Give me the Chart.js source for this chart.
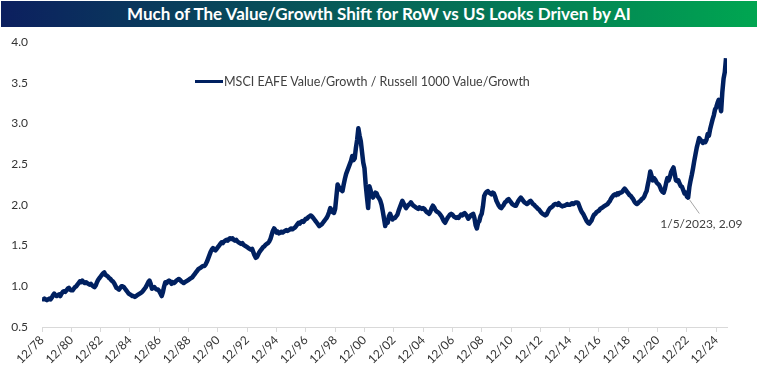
<!DOCTYPE html>
<html>
<head>
<meta charset="utf-8">
<script src="https://cdn.jsdelivr.net/npm/chart.js@4.4.1/dist/chart.umd.min.js"></script>
<style>
    html, body { margin: 0; padding: 0; background: #fff; }
    #wrap { position: relative; width: 759px; height: 375px; overflow: hidden; }
    #chart { position: absolute; left: 0; top: 0; }
    #title {
        position: absolute; left: 1px; top: 1px; width: 756px; height: 26px;
        background: linear-gradient(to right, #0c1f5f, #00a651);
        color: #fff; font: bold 17px Lato, "Open Sans", sans-serif;
        text-align: center; line-height: 26px;
    }
    #legend {
        position: absolute; left: 195px; top: 74px;
        font: 12.5px Lato, "Open Sans", sans-serif; color: #404040; white-space: nowrap;
    }
    #legend span.swatch {
        display: inline-block; width: 28px; height: 3px; background: #002060;
        vertical-align: middle; margin-right: 1px; position: relative; top: -1px;
    }
</style>
</head>
<body>
<div id="wrap">
    <canvas id="chart" width="759" height="375"></canvas>
    <div id="title">Much of The Value/Growth Shift for RoW vs US Looks Driven by AI</div>
    <div id="legend"><span class="swatch"></span>MSCI EAFE Value/Growth / Russell 1000 Value/Growth</div>
</div>
<script>
// monthly readings, first value is Dec 1978
const startYear = 1978 + 11 / 12;
const endYear = 2025.65;
const seriesName = 'MSCI EAFE Value/Growth / Russell 1000 Value/Growth';

const ratio = [
    0.85,
    // 1979
    0.84, 0.85, 0.84, 0.83, 0.84, 0.85, 0.84, 0.86, 0.89, 0.91, 0.89, 0.88,
    // 1980
    0.89, 0.90, 0.88, 0.91, 0.93, 0.94, 0.93, 0.95, 0.97, 0.98, 0.96, 0.95,
    // 1981
    0.95, 0.97, 0.99, 1.00, 1.02, 1.04, 1.06, 1.05, 1.07, 1.05, 1.04, 1.05,
    // 1982
    1.04, 1.03, 1.02, 1.03, 1.01, 1.00, 0.99, 1.01, 1.05, 1.08, 1.10, 1.12,
    // 1983
    1.14, 1.16, 1.17, 1.14, 1.13, 1.12, 1.10, 1.09, 1.07, 1.06, 1.04, 1.01,
    // 1984
    0.98, 0.97, 0.96, 0.98, 1.00, 1.00, 0.99, 0.97, 0.95, 0.93, 0.91, 0.90,
    // 1985
    0.89, 0.88, 0.88, 0.87, 0.88, 0.89, 0.90, 0.91, 0.92, 0.93, 0.95, 0.97,
    // 1986
    0.99, 1.02, 1.05, 1.07, 1.03, 0.97, 0.98, 0.99, 0.97, 0.96, 0.96, 0.94,
    // 1987
    0.91, 0.88, 0.93, 1.00, 1.05, 1.04, 1.06, 1.07, 1.06, 1.03, 1.05, 1.04,
    // 1988
    1.05, 1.07, 1.08, 1.09, 1.08, 1.06, 1.05, 1.04, 1.05, 1.06, 1.07, 1.08,
    // 1989
    1.09, 1.10, 1.11, 1.13, 1.15, 1.17, 1.19, 1.21, 1.22, 1.23, 1.24, 1.25,
    // 1990
    1.25, 1.27, 1.30, 1.34, 1.38, 1.42, 1.45, 1.47, 1.45, 1.44, 1.46, 1.48,
    // 1991
    1.50, 1.52, 1.54, 1.53, 1.55, 1.56, 1.57, 1.56, 1.58, 1.59, 1.58, 1.59,
    // 1992
    1.57, 1.56, 1.57, 1.55, 1.54, 1.53, 1.52, 1.53, 1.51, 1.50, 1.49, 1.48,
    // 1993
    1.47, 1.46, 1.45, 1.46, 1.42, 1.38, 1.35, 1.36, 1.39, 1.42, 1.44, 1.46,
    // 1994
    1.48, 1.49, 1.51, 1.52, 1.53, 1.55, 1.58, 1.63, 1.68, 1.71, 1.69, 1.66,
    // 1995
    1.67, 1.65, 1.66, 1.67, 1.66, 1.67, 1.68, 1.69, 1.68, 1.69, 1.70, 1.71,
    // 1996
    1.70, 1.71, 1.72, 1.74, 1.76, 1.78, 1.77, 1.79, 1.80, 1.79, 1.81, 1.83,
    // 1997
    1.83, 1.85, 1.86, 1.87, 1.86, 1.84, 1.82, 1.80, 1.78, 1.76, 1.74, 1.75,
    // 1998
    1.76, 1.78, 1.80, 1.82, 1.84, 1.87, 1.91, 1.96, 1.94, 1.91, 1.90, 1.95,
    // 1999
    2.10, 2.25, 2.22, 2.19, 2.18, 2.17, 2.25, 2.32, 2.38, 2.42, 2.46, 2.50,
    // 2000
    2.54, 2.60, 2.55, 2.57, 2.70, 2.80, 2.94, 2.85, 2.78, 2.65, 2.52, 2.45,
    // 2001
    2.25, 2.10, 1.96, 2.23, 2.18, 2.12, 2.09, 2.12, 2.15, 2.14, 2.10, 2.08,
    // 2002
    2.05, 2.00, 1.92, 1.83, 1.74, 1.80, 1.78, 1.86, 1.89, 1.85, 1.82, 1.84,
    // 2003
    1.84, 1.86, 1.88, 1.93, 1.97, 2.01, 2.05, 2.02, 1.99, 1.96, 1.98, 2.00,
    // 2004
    2.01, 2.03, 2.01, 1.99, 1.98, 1.97, 1.96, 1.95, 1.97, 1.96, 1.95, 1.96,
    // 2005
    1.95, 1.93, 1.91, 1.90, 1.89, 1.92, 1.96, 1.99, 1.97, 1.94, 1.92, 1.91,
    // 2006
    1.90, 1.88, 1.86, 1.83, 1.80, 1.78, 1.81, 1.84, 1.86, 1.88, 1.89, 1.88,
    // 2007
    1.86, 1.85, 1.84, 1.85, 1.84, 1.86, 1.88, 1.87, 1.89, 1.90, 1.88, 1.86,
    // 2008
    1.83, 1.85, 1.87, 1.88, 1.89, 1.84, 1.75, 1.71, 1.78, 1.80, 1.86, 1.89,
    // 2009
    1.98, 2.11, 2.14, 2.16, 2.17, 2.15, 2.14, 2.13, 2.15, 2.14, 2.10, 2.05,
    // 2010
    2.02, 1.99, 1.97, 1.96, 1.98, 2.00, 2.03, 2.04, 2.06, 2.07, 2.05, 2.03,
    // 2011
    2.01, 2.00, 1.99, 1.99, 2.02, 2.05, 2.07, 2.09, 2.07, 2.05, 2.03, 2.02,
    // 2012
    2.01, 2.02, 2.04, 2.05, 2.03, 2.01, 2.00, 1.98, 1.97, 1.95, 1.94, 1.92,
    // 2013
    1.90, 1.89, 1.88, 1.87, 1.88, 1.91, 1.94, 1.96, 1.97, 1.98, 2.00, 2.01,
    // 2014
    2.01, 2.00, 2.02, 2.00, 1.99, 1.98, 1.99, 1.99, 2.00, 2.01, 2.00, 2.00,
    // 2015
    2.01, 2.02, 2.01, 2.02, 2.03, 2.03, 2.02, 1.98, 1.94, 1.91, 1.89, 1.86,
    // 2016
    1.83, 1.80, 1.78, 1.77, 1.79, 1.81, 1.85, 1.88, 1.89, 1.91, 1.92, 1.93,
    // 2017
    1.95, 1.96, 1.97, 1.98, 1.99, 2.00, 2.01, 2.03, 2.05, 2.08, 2.10, 2.12,
    // 2018
    2.13, 2.12, 2.14, 2.13, 2.15, 2.15, 2.16, 2.18, 2.20, 2.18, 2.16, 2.14,
    // 2019
    2.12, 2.11, 2.09, 2.07, 2.04, 2.02, 2.01, 2.02, 2.04, 2.05, 2.07, 2.08,
    // 2020
    2.10, 2.14, 2.17, 2.25, 2.32, 2.41, 2.36, 2.30, 2.33, 2.31, 2.28, 2.26,
    // 2021
    2.25, 2.22, 2.18, 2.16, 2.15, 2.20, 2.27, 2.33, 2.30, 2.34, 2.40, 2.43,
    // 2022
    2.46, 2.38, 2.30, 2.29, 2.30, 2.26, 2.23, 2.22, 2.18, 2.14, 2.15, 2.10,
    // 2023
    2.09, 2.22, 2.30, 2.37, 2.45, 2.54, 2.62, 2.70, 2.76, 2.82, 2.80, 2.78,
    // 2024
    2.76, 2.78, 2.77, 2.80, 2.87, 2.85, 2.93, 2.99, 3.05, 3.10, 3.17, 3.20,
    // 2025
    3.25, 3.29, 3.22, 3.15, 3.39, 3.55, 3.63, 3.80
];

const tickLabels = ['12/78', '12/80', '12/82', '12/84', '12/86', '12/88', '12/90', '12/92',
    '12/94', '12/96', '12/98', '12/00', '12/02', '12/04', '12/06', '12/08', '12/10', '12/12',
    '12/14', '12/16', '12/18', '12/20', '12/22', '12/24'];

const callout = { x: 2023 + 4 / 365, y: 2.09, text: '1/5/2023, 2.09' };

const points = ratio.map((v, i) => ({ x: startYear + i / 12, y: v }));
const tickValues = tickLabels.map(l => {
    const yy = parseInt(l.split('/')[1], 10);
    return (yy > 50 ? 1900 : 2000) + yy + 11 / 12;
});

const calloutPlugin = {
    id: 'callout',
    afterDatasetsDraw(chart) {
        const ctx = chart.ctx;
        const px = chart.scales.x.getPixelForValue(callout.x);
        const py = chart.scales.y.getPixelForValue(callout.y);
        ctx.save();
        ctx.strokeStyle = '#a6a6a6';
        ctx.lineWidth = 1;
        ctx.beginPath();
        ctx.moveTo(px + 1, py + 2);
        ctx.lineTo(px + 11, py + 16);
        ctx.stroke();
        ctx.fillStyle = '#404040';
        ctx.font = '12px Lato, "Open Sans", sans-serif';
        ctx.textAlign = 'center';
        ctx.textBaseline = 'middle';
        ctx.fillText(callout.text, px + 13, py + 27);
        ctx.restore();
    }
};

new Chart(document.getElementById('chart'), {
    type: 'line',
    data: {
        datasets: [
            {
                label: seriesName,
                data: points,
                borderColor: '#002060',
                borderWidth: 4.5,
                borderJoinStyle: 'round',
                pointRadius: 0,
                tension: 0,
                fill: false
            }
        ]
    },
    options: {
        responsive: false,
        animation: false,
        devicePixelRatio: 1,
        layout: { padding: { top: 42, right: 32, left: 0, bottom: 0 } },
        plugins: {
            legend: { display: false },
            tooltip: { enabled: false }
        },
        scales: {
            x: {
                type: 'linear',
                min: startYear,
                max: endYear,
                afterBuildTicks: scale => {
                    scale.ticks = tickValues.map(v => ({ value: v }));
                },
                afterFit: scale => { scale.height = 48; },
                grid: { drawOnChartArea: false, drawTicks: true, tickLength: 5, color: '#d9d9d9' },
                border: { display: true, color: '#d9d9d9' },
                ticks: {
                    autoSkip: false,
                    minRotation: 45,
                    maxRotation: 45,
                    padding: 1,
                    color: '#333',
                    font: { family: 'Lato, "Open Sans", sans-serif', size: 12 },
                    callback: (v, i) => tickLabels[i]
                }
            },
            y: {
                min: 0.5,
                max: 4.0,
                afterFit: scale => { scale.width = 42; },
                grid: { display: false, drawTicks: false },
                border: { display: false },
                ticks: {
                    stepSize: 0.5,
                    padding: 14,
                    color: '#333',
                    font: { family: 'Lato, "Open Sans", sans-serif', size: 12 },
                    callback: v => v.toFixed(1)
                }
            }
        }
    },
    plugins: [calloutPlugin]
});
</script>
</body>
</html>
